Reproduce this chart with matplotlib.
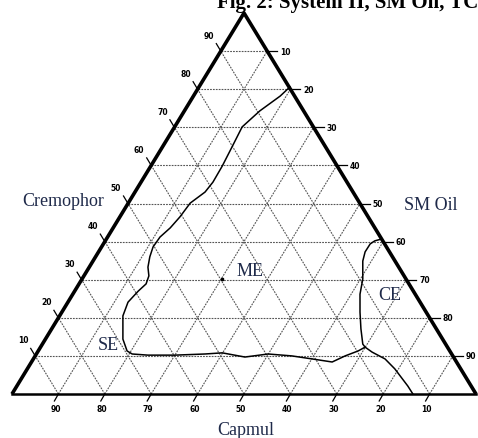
import matplotlib
matplotlib.use('Agg')
import matplotlib.pyplot as plt
import numpy as np

# chart coords: x along the Capmul base (0..100), y = Cremophor level (0..100)
levels = [10, 20, 30, 40, 50, 60, 70, 80, 90]
left_labels = ['10', '20', '30', '40', '50', '60', '70', '80', '90']
right_labels = ['90', '80', '70', '60', '50', '40', '30', '20', '10']
base_labels = ['90', '80', '79', '60', '50', '40', '30', '20', '10']

me_x = [59.9, 57.8, 53.4, 49.6, 47.4, 45.3, 43.3, 41.6, 38.4, 36.2, 34.1, 31.9,
        30.4, 29.7, 29.3, 29.5, 28.9, 27.2, 25.0, 23.9, 23.9, 24.8, 25.9, 29.3,
        35.1, 41.6, 45.3, 50.2, 55.2, 60.3, 64.7, 69.0, 71.8, 74.6, 76.1, 77.6,
        80.4, 82.5, 85.3, 86.4]
me_y = [80.6, 78.2, 74.3, 70.1, 64.8, 59.8, 55.6, 53.0, 50.1, 46.5, 43.6, 41.2,
        38.6, 36.0, 33.3, 31.0, 28.9, 27.0, 24.1, 20.5, 14.4, 11.3, 10.5, 10.2,
        10.2, 10.5, 10.8, 9.7, 10.5, 10.0, 9.2, 8.4, 10.0, 11.3, 12.3, 11.0,
        9.2, 6.6, 2.1, 0.0]

ce_x = [79.7, 78.2, 77.2, 76.1, 75.6, 75.6, 75.0, 75.0, 75.2, 75.6, 76.1]
ce_y = [40.7, 40.2, 39.4, 37.3, 34.9, 30.2, 26.2, 21.5, 17.1, 13.1, 12.3]

# pixel scale of the picture
sx, sy = 4.64, 3.81

def off(x, y, dxp, dyp):
    return x + dxp / sx, y - dyp / sy

def px(x, y):
    return off(0, 0, x - 12, y - 395)

fig = plt.figure(figsize=(4.78, 4.39), dpi=100)
ax = fig.add_axes([0, 0, 1, 1])
ax.set_xlim(-12 / sx, 466 / sx)
ax.set_ylim(-44 / sy, 395 / sy)
ax.axis('off')

gc = '#555555'
gls = (0, (1.6, 1.0))
for v in levels:
    # horizontal
    ax.plot([v / 2, 100 - v / 2], [v, v], color=gc, lw=0.8, ls=gls)
    # parallel to left edge
    ax.plot([v, 50 + v / 2], [0, 100 - v], color=gc, lw=0.8, ls=gls)
    # parallel to right edge
    ax.plot([v, v / 2], [0, v], color=gc, lw=0.8, ls=gls)

# triangle
ax.plot([0, 50, 100], [0, 100, 0], color='black', lw=2.6, solid_capstyle='butt')
ax.plot([0, 100], [0, 0], color='black', lw=1.8)

tfs = 5.5
for v, ll, rl, bl in zip(levels, left_labels, right_labels, base_labels):
    # left ticks
    x0, y0 = v / 2, v
    x1, y1 = off(x0, y0, -4.5, -7.5)
    ax.plot([x0, x1], [y0, y1], color='black', lw=0.9)
    lx, ly = off(x0, y0, -12, -16)
    ax.text(lx, ly, ll, fontsize=tfs, ha='center', va='center', fontweight='bold')
    # right ticks
    x0 = 100 - v / 2
    x1, _ = off(x0, v, 10, 0)
    ax.plot([x0, x1], [v, v], color='black', lw=0.9)
    lx, _ = off(x0, v, 18, 0)
    ax.text(lx, v, rl, fontsize=tfs, ha='center', va='center', fontweight='bold')
    # base ticks
    x1, y1 = off(v, 0, -4, 7)
    ax.plot([v, x1], [0, y1], color='black', lw=0.9)
    lx, ly = off(v, 0, -3, 15)
    ax.text(lx, ly, bl, fontsize=tfs, ha='center', va='center', fontweight='bold')

# phase boundaries
ax.plot(me_x, me_y, color='black', lw=1.1)
ax.plot(ce_x, ce_y, color='black', lw=1.1)
ax.plot([45.3], [30.2], marker='s', ms=2, color='black')

tc = '#1f2a4a'
serif = 'Liberation Serif'
for (tx, ty), s in [((63, 202), 'Cremophor'), ((431, 205), 'SM Oil'),
                    ((246, 431), 'Capmul'), ((250, 271), 'ME'),
                    ((390, 296), 'CE'), ((108, 346), 'SE')]:
    ax.text(*px(tx, ty), s, fontsize=13, family=serif, color=tc,
            ha='center', va='center')

# title, cut by the top edge like in the scan
fig.text(217 / 478, 1 - 8 / 439, 'Fig. 2: System II, SM Oil, TC', fontsize=15,
         family=serif, fontweight='bold', ha='left', va='baseline')

fig.savefig('out.png', dpi=100)
